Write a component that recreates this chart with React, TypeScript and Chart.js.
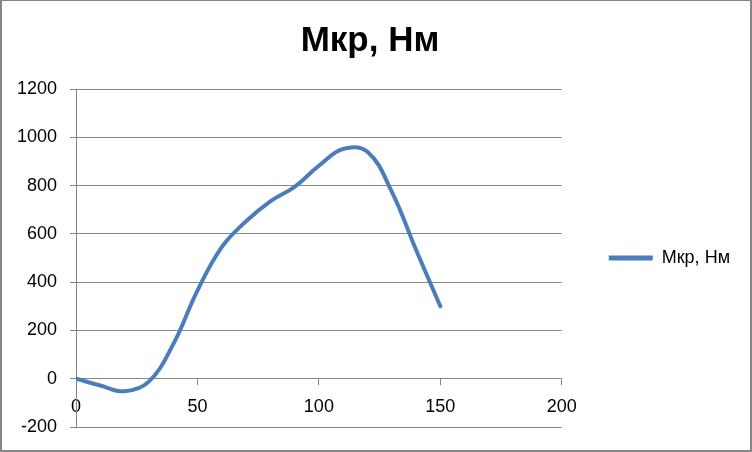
import React, { useEffect, useRef } from "react";
import { Chart, registerables } from "chart.js";

Chart.register(...registerables);

const chartTitle = "Мкр, Нм";
const seriesName = "Мкр, Нм";
const xValues = [0, 10, 20, 30, 40, 50, 60, 70, 80, 90, 100, 110, 120, 130, 140, 150];
const torqueValues = [0, -28, -52, -12, 142, 365, 545, 652, 735, 795, 882, 952, 940, 775, 534, 300];
const xTickValues = [0, 50, 100, 150, 200];
const yTickValues = [-200, 0, 200, 400, 600, 800, 1000, 1200];

const LINE_COLOR = "#4A7EBB";
const GRID_COLOR = "#868686";
const FONT = "'Liberation Sans', Arial, sans-serif";

const framePlugin = {
  id: "frame",
  beforeDraw(chart: any) {
    const { ctx, width, height } = chart;
    ctx.save();
    ctx.fillStyle = "#ffffff";
    ctx.fillRect(0, 0, width, height);
    ctx.restore();
  },
  afterDraw(chart: any) {
    const { ctx, width, height } = chart;
    ctx.save();
    ctx.fillStyle = GRID_COLOR;
    ctx.fillRect(0, 0, width, 1);
    ctx.fillRect(0, 0, 2, height);
    ctx.fillRect(width - 2, 0, 2, height);
    ctx.fillRect(0, height - 2, width, 2);
    ctx.restore();
  },
};

export default function App() {
  const canvasRef = useRef<HTMLCanvasElement | null>(null);

  useEffect(() => {
    if (!canvasRef.current) return;
    Chart.defaults.font.family = FONT;
    const points = xValues.map((x, i) => ({ x, y: torqueValues[i] }));
    const chart = new Chart(canvasRef.current, {
      type: "scatter",
      data: {
        datasets: [
          {
            label: seriesName,
            data: points,
            showLine: true,
            borderColor: LINE_COLOR,
            backgroundColor: LINE_COLOR,
            borderWidth: 4,
            borderCapStyle: "round",
            pointRadius: 0,
            pointHoverRadius: 0,
            tension: 0.4,
          } as any,
        ],
      },
      plugins: [framePlugin],
      options: {
        responsive: false,
        animation: false,
        events: [],
        layout: { padding: { left: 0, right: 12, top: 0, bottom: 25 } },
        plugins: {
          title: {
            display: true,
            text: chartTitle,
            color: "#000",
            font: { size: 35, weight: "bold", family: FONT },
            padding: { top: 20, bottom: 27 },
          },
          legend: {
            display: true,
            position: "right",
            fullSize: false,
            align: "center",
            labels: {
              color: "#000",
              font: { size: 18, family: FONT },
              boxWidth: 44,
              boxHeight: 5,
              padding: 47,
              generateLabels: (c: any) =>
                (Chart.defaults.plugins.legend.labels.generateLabels as any)(c).map((l: any) => ({
                  ...l,
                  lineWidth: 0,
                })),
            },
          },
          tooltip: { enabled: false },
        },
        scales: {
          x: {
            type: "linear",
            position: { y: 0 } as any,
            min: xTickValues[0],
            max: xTickValues[xTickValues.length - 1],
            afterBuildTicks: (scale: any) => {
              scale.ticks = xTickValues.map((v) => ({ value: v }));
            },
            grid: {
              drawOnChartArea: false,
              drawTicks: true,
              tickLength: 6,
              color: GRID_COLOR,
            },
            border: { display: true, color: GRID_COLOR, width: 1 },
            ticks: {
              color: "#000",
              font: { size: 18, family: FONT },
              padding: 12,
              maxRotation: 0,
              callback: (v: any) => String(v),
            },
          },
          y: {
            type: "linear",
            position: "left",
            min: yTickValues[0],
            max: yTickValues[yTickValues.length - 1],
            afterBuildTicks: (scale: any) => {
              scale.ticks = yTickValues.map((v) => ({ value: v }));
            },
            afterFit: (scale: any) => {
              scale.width = 76;
            },
            grid: {
              drawOnChartArea: true,
              drawTicks: true,
              tickLength: 6,
              color: GRID_COLOR,
            },
            border: { display: true, color: GRID_COLOR, width: 1 },
            ticks: {
              color: "#000",
              font: { size: 18, family: FONT },
              padding: 13,
              callback: (v: any) => String(v),
            },
          },
        },
      } as any,
    });
    return () => chart.destroy();
  }, []);

  return (
    <div style={{ position: "fixed", left: 0, top: 0, width: 752, height: 452 }}>
      <canvas ref={canvasRef} width={752} height={452} style={{ display: "block" }} />
    </div>
  );
}
